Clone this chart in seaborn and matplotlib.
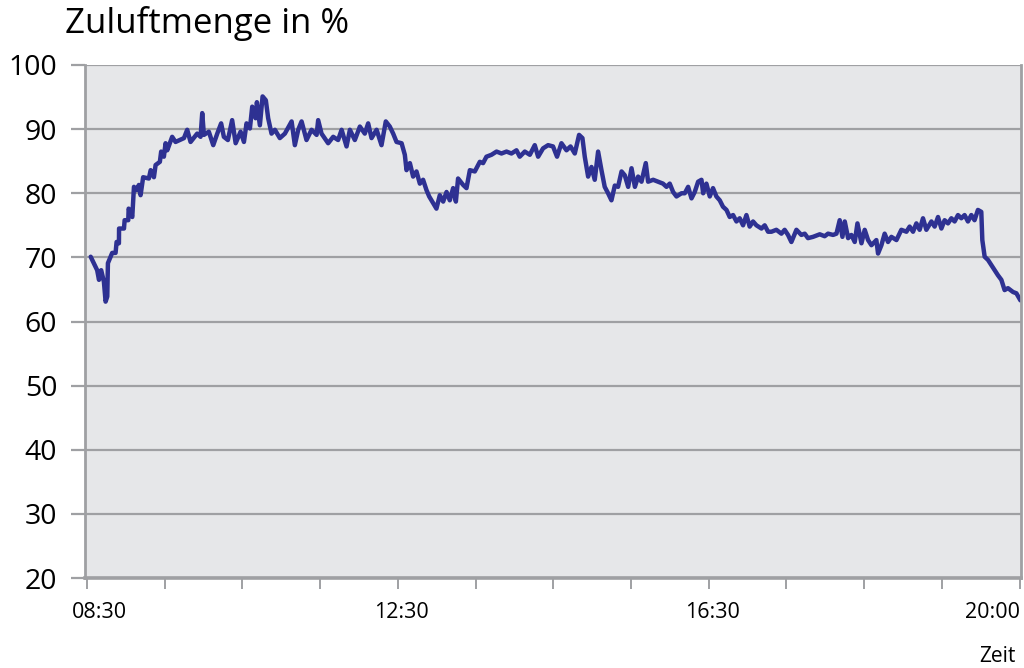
import pandas as pd
import matplotlib.pyplot as plt
import matplotlib.transforms as mtransforms
import seaborn as sns

# time in minutes after 08:30, supply air volume in %
minutes = [
    2.9, 7.9, 9.3, 11.0, 13.1, 14.4, 15.7, 16.2, 19.5, 22.1, 22.9, 24.7, 24.8, 28.6, 29.1, 31.9,
    32.2, 35.0, 36.3, 38.4, 40.1, 41.4, 43.4, 47.8, 49.2, 51.7, 53.0, 56.3, 57.3, 59.4, 60.7, 62.0,
    65.8, 68.4, 74.9, 77.4, 80.0, 85.1, 87.7, 89.0, 90.3, 94.1, 97.5, 100.6, 103.6, 105.7, 108.8,
    112.1, 114.8, 118.6, 121.2, 123.2, 125.8, 127.6, 130.2, 131.2, 133.5, 135.6, 138.1, 139.9,
    142.5, 145.1, 148.9, 152.8, 158.0, 160.5, 163.1, 165.7, 169.5, 173.4, 177.3, 178.5, 181.1,
    186.2, 190.1, 193.9, 196.6, 200.4, 203.0, 206.8, 210.7, 214.5, 217.1, 219.7, 223.6, 227.4,
    230.7, 233.8, 236.4, 239.0, 242.9, 245.4, 246.7, 249.3, 251.8, 254.4, 257.0, 259.5, 262.1,
    264.2, 267.2, 269.8, 272.4, 275.0, 277.6, 280.1, 282.7, 284.8, 286.5, 290.4, 293.0, 295.6,
    299.4, 303.3, 305.8, 308.4, 312.3, 316.2, 320.0, 323.9, 327.7, 331.6, 334.1, 338.0, 341.9,
    345.7, 348.3, 352.1, 356.0, 359.8, 362.9, 366.3, 370.2, 373.3, 376.6, 379.9, 382.5, 384.3,
    386.9, 389.5, 392.0, 394.6, 397.2, 399.7, 402.3, 404.9, 407.5, 410.0, 412.7, 415.2, 417.8,
    420.4, 423.0, 425.5, 428.1, 431.4, 433.2, 437.1, 440.9, 444.7, 447.4, 449.9, 452.5, 455.1,
    459.0, 461.5, 464.1, 466.7, 469.2, 471.8, 474.4, 475.7, 478.2, 480.8, 483.3, 485.9, 488.5,
    491.0, 493.7, 496.2, 498.8, 501.4, 503.9, 506.5, 509.1, 511.6, 514.2, 516.8, 520.7, 523.2,
    525.8, 528.4, 532.2, 536.1, 538.6, 541.2, 543.8, 547.7, 551.5, 554.1, 556.6, 560.5, 565.7,
    569.5, 572.1, 576.0, 578.6, 581.1, 583.2, 585.0, 587.6, 590.1, 592.7, 594.8, 597.9, 600.4,
    603.0, 605.6, 609.4, 610.7, 613.3, 615.8, 618.4, 621.0, 624.9, 628.7, 632.6, 635.1, 637.7,
    640.3, 642.8, 645.4, 648.0, 651.9, 654.4, 657.0, 659.6, 662.1, 664.7, 667.3, 669.8, 672.4,
    675.0, 677.5, 680.1, 682.7, 685.2, 687.8, 690.4, 691.2, 693.0, 695.6, 698.2, 700.7, 703.3,
    705.9, 708.4, 711.0, 714.9, 717.5, 720.6,
]
zuluft = [
    70.1, 68.0, 66.5, 68.0, 66.2, 63.1, 63.9, 69.1, 70.7, 70.7, 72.4, 72.2, 74.5, 74.5, 75.8, 75.8,
    77.6, 76.3, 81.0, 80.5, 81.3, 79.7, 82.5, 82.3, 83.6, 82.5, 84.4, 84.9, 86.5, 85.7, 87.8, 86.7,
    88.8, 88.0, 88.6, 89.9, 88.0, 89.3, 88.8, 92.5, 89.1, 89.6, 87.5, 89.3, 90.9, 88.8, 88.3,
    91.4, 87.8, 89.6, 88.0, 90.9, 90.1, 93.5, 91.7, 94.2, 90.6, 95.1, 94.5, 91.7,
    89.3, 89.9, 88.6, 89.3, 91.2, 87.5, 89.9, 91.2, 88.3, 89.9, 89.1, 91.4, 89.3,
    87.8, 88.8, 88.3, 89.9, 87.3, 89.9, 88.3, 90.4, 89.3, 90.9, 88.6, 89.9, 87.5,
    91.2, 90.4, 89.3, 88.0, 87.8, 86.0, 83.6, 84.7, 82.6, 83.4, 81.5, 82.1, 80.5,
    79.5, 78.5, 77.6, 79.7, 78.7, 80.2, 78.9, 80.8, 78.7, 82.3, 81.3, 80.8, 83.6,
    83.4, 84.9, 84.7, 85.7, 86.0, 86.5, 86.2, 86.5, 86.2, 86.7, 85.7, 86.5, 86.0,
    87.5, 85.7, 87.0, 87.5, 87.3, 85.7, 87.8, 86.7, 87.3, 86.2, 89.1, 88.6, 85.7,
    82.6, 84.1, 82.1, 86.5, 83.6, 81.0, 80.0, 78.9, 81.2, 81.0, 83.4, 82.8, 81.0,
    83.9, 81.0, 82.6, 81.8, 84.7, 81.8, 82.1, 81.8, 81.5, 81.0, 81.5, 80.2, 79.5,
    80.0, 80.0, 81.0, 79.2, 80.2, 81.8, 82.1, 80.0, 81.5, 79.5, 80.8, 79.5, 78.9,
    77.9, 77.4, 76.3, 76.6, 75.6, 76.1, 75.0, 76.6, 74.8, 75.6, 75.0, 74.5, 75.0,
    74.0, 74.0, 74.3, 73.7, 74.3, 73.5, 72.4, 74.3, 73.5, 73.7, 73.0, 73.2, 73.6,
    73.3, 73.7, 73.5, 73.7, 75.8, 73.2, 75.6, 73.0, 73.5, 72.4, 75.3, 72.2, 74.3,
    72.7, 71.9, 72.7, 70.6, 71.9, 73.7, 72.4, 73.2, 72.7, 74.3, 74.0, 74.8, 74.0,
    75.3, 74.3, 76.1, 74.3, 75.6, 74.8, 76.3, 74.5, 75.8, 75.3, 76.1, 75.6, 76.6,
    76.1, 76.6, 75.6, 76.6, 75.8, 77.4, 77.1, 72.7, 70.1, 69.6, 68.8, 68.0, 67.2,
    66.5, 64.9, 65.2, 64.6, 64.4, 63.3,
]

tick_minutes = list(range(0, 721, 60))
label_minutes = [0, 240, 480, 720]
tick_labels = ['08:30', '12:30', '16:30', '20:00']
y_ticks = [20, 30, 40, 50, 60, 70, 80, 90, 100]

df = pd.DataFrame({'Minuten': minutes, 'Zuluft': zuluft})

sns.set_theme(style='white')
plt.rcParams['font.family'] = ['Open Sans', 'DejaVu Sans']
plt.rcParams['text.color'] = 'black'
plt.rcParams['xtick.labelcolor'] = 'black'
plt.rcParams['ytick.labelcolor'] = 'black'

grid_col = '#9fa0a3'
fig = plt.figure(figsize=(10.24, 6.68), dpi=100)
ax = fig.add_axes([0.083, 0.1347, 0.914, 0.768])
ax.set_facecolor('#e6e7e9')

sns.lineplot(data=df, x='Minuten', y='Zuluft', ax=ax, color='#2e3192', linewidth=3.2)

ax.set_xlim(-1.5, 721)
ax.set_ylim(20, 100)

# horizontal grid lines, extended left as tick marks
ax.set_yticks(y_ticks)
ax.set_yticklabels([str(v) for v in y_ticks], fontsize=20.5)
ax.yaxis.grid(True, color=grid_col, linewidth=1.6)
ax.set_axisbelow(True)
ax.tick_params(axis='y', length=10, width=1.6, color=grid_col, pad=10, left=True)

ax.set_xticks(tick_minutes)
ax.set_xticklabels([tick_labels[label_minutes.index(m)] if m in label_minutes else ''
                    for m in tick_minutes], fontsize=15.5)
ax.tick_params(axis='x', length=8, width=1.4, color=grid_col, pad=9, bottom=True)

# nudge the labels a little like in the original
xlabs = ax.get_xticklabels()
shifts = {0: 13, 4: 4, 8: 4}
for i, shift in shifts.items():
    xlabs[i].set_transform(xlabs[i].get_transform() +
                           mtransforms.ScaledTranslation(shift / 100, 0, fig.dpi_scale_trans))
xlabs[-1].set_ha('right')

for side in ['left', 'bottom', 'right']:
    ax.spines[side].set_color(grid_col)
ax.spines['left'].set_linewidth(2)
ax.spines['bottom'].set_linewidth(2.6)
ax.spines['right'].set_linewidth(2)
ax.spines['top'].set_visible(False)

ax.set_xlabel('')
ax.set_ylabel('')
fig.text(0.063, 0.965, 'Zuluftmenge in %', fontsize=25, ha='left', va='center')
fig.text(0.992, 0.002, 'Zeit', fontsize=15, ha='right', va='bottom')

fig.savefig('out.png', dpi=100)
